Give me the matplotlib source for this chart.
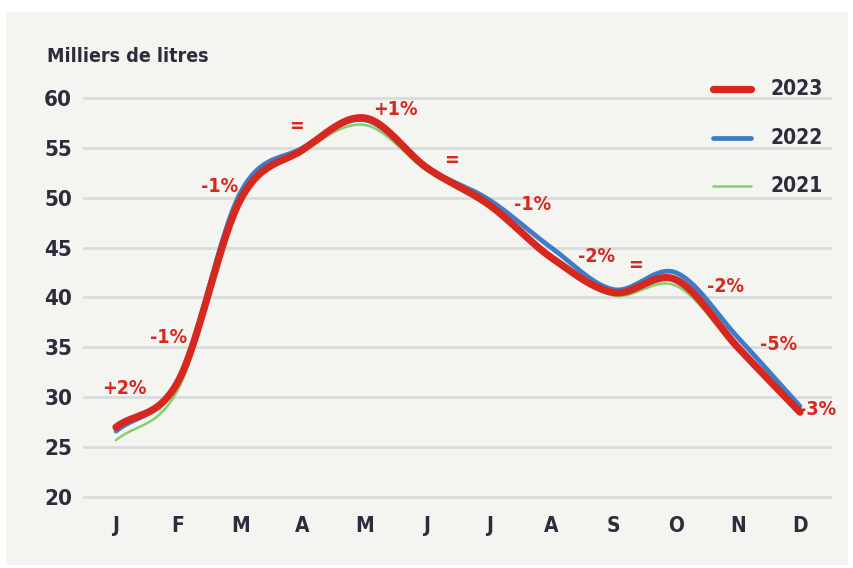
import numpy as np
import matplotlib
matplotlib.use("Agg")
import matplotlib.pyplot as plt
from matplotlib.patches import Rectangle
from matplotlib.lines import Line2D
from matplotlib import font_manager

months = ["J", "F", "M", "A", "M", "J", "J", "A", "S", "O", "N", "D"]
v2023 = [27.0, 31.6, 49.8, 54.8, 58.0, 53.0, 49.3, 44.0, 40.5, 41.8, 35.0, 28.5]
v2022 = [26.6, 31.7, 50.5, 55.0, 57.8, 53.0, 49.8, 45.0, 40.8, 42.5, 36.0, 29.1]
v2021 = [25.7, 30.8, 49.5, 54.6, 57.3, 52.7, 49.0, 43.8, 40.2, 41.2, 34.8, 28.8]
years = ["2023", "2022", "2021"]
yticks = [20, 25, 30, 35, 40, 45, 50, 55, 60]
ann_labels = ["+2%", "-1%", "-1%", "=", "+1%", "=", "-1%", "-2%", "=", "-2%", "-5%", "-3%"]
# label positions in data coords (month index, value)
ann_x = [0.13, 0.84, 1.67, 2.91, 4.50, 5.40, 6.70, 7.73, 8.36, 9.80, 10.66, 11.29]
ann_y = [30.9, 36.0, 51.1, 57.1, 58.8, 53.7, 49.3, 44.1, 43.2, 41.1, 35.3, 28.8]

RED = "#d7281f"
BLUE = "#3d7cc9"
GREEN = "#86cf6e"
TXT = "#2b2d3c"
BG = "#f4f4f0"
GRID = "#d9dcdc"

names = {f.name for f in font_manager.fontManager.ttflist}
if 'Liberation Sans Narrow' in names:
    plt.rcParams['font.family'] = ['Liberation Sans Narrow', 'DejaVu Sans']
    STRETCH = 'normal'
else:
    plt.rcParams['font.family'] = ['DejaVu Sans']
    STRETCH = 'condensed'
plt.rcParams['font.stretch'] = STRETCH


def cardinal(x, y, n=40):
    x = np.asarray(x, float)
    y = np.asarray(y, float)
    m = len(x)
    t = np.zeros(m)
    t[1:-1] = (y[2:] - y[:-2]) / (x[2:] - x[:-2])
    t[0] = (y[1] - y[0]) / (x[1] - x[0])
    t[-1] = (y[-1] - y[-2]) / (x[-1] - x[-2])
    xs_all, ys_all = [], []
    for i in range(m - 1):
        h = x[i + 1] - x[i]
        s = np.linspace(0, 1, n, endpoint=(i == m - 2))
        h00 = 2 * s ** 3 - 3 * s ** 2 + 1
        h10 = s ** 3 - 2 * s ** 2 + s
        h01 = -2 * s ** 3 + 3 * s ** 2
        h11 = s ** 3 - s ** 2
        xs_all.append(x[i] + s * h)
        ys_all.append(h00 * y[i] + h10 * h * t[i] + h01 * y[i + 1] + h11 * h * t[i + 1])
    return np.concatenate(xs_all), np.concatenate(ys_all)


fig = plt.figure(figsize=(8.54, 5.68), dpi=100)
fig.patch.set_facecolor("white")
fig.add_artist(Rectangle((6 / 854, 1 - 565 / 568), (848 - 6) / 854, (565 - 12) / 568,
                         transform=fig.transFigure, facecolor=BG, edgecolor="none", zorder=0))

ax = fig.add_axes([84 / 854, 1 - 497 / 568, (830 - 84) / 854, (497 - 98) / 568])
ax.set_facecolor("none")
x = np.arange(len(months))
ax.set_xlim(-32 / 62.18, 11 + 30 / 62.18)
ax.set_ylim(20, 60)

for yv in yticks:
    ax.axhline(yv, color=GRID, lw=2.0, zorder=1, clip_on=False)

for vals, col, lw in [(v2021, GREEN, 1.8), (v2022, BLUE, 3.4), (v2023, RED, 5.2)]:
    xs, ys = cardinal(x, vals)
    ax.plot(xs, ys, color=col, lw=lw, solid_capstyle="round", zorder=3)

for lab, xx, yy in zip(ann_labels, ann_x, ann_y):
    ax.text(xx, yy, lab, color=RED, fontsize=14, fontweight="bold",
            ha="center", va="center", zorder=4)

ax.set_xticks(x)
ax.set_xticklabels(months, fontsize=15, fontweight="bold", color=TXT)
ax.set_yticks(yticks)
ax.set_yticklabels([str(v) for v in yticks], fontsize=16, fontweight="bold", color=TXT)
ax.tick_params(length=0, axis="x", pad=14)
ax.tick_params(length=0, axis="y", pad=8.5)
for s in ax.spines.values():
    s.set_visible(False)

fig.text(47 / 854, 1 - 57 / 568, "Milliers de litres", fontsize=14, fontweight="bold",
         color=TXT, ha="left", va="center")

# legend
leg_cols = [RED, BLUE, GREEN]
leg_lw = [5.2, 3.4, 1.8]
leg_y = [89, 138, 186]
for yr, col, lw, py in zip(years, leg_cols, leg_lw, leg_y):
    yf = 1 - py / 568
    fig.add_artist(Line2D([713 / 854, 751 / 854], [yf, yf], transform=fig.transFigure,
                          color=col, lw=lw, solid_capstyle="round", zorder=5))
    fig.text(771 / 854, yf, yr, fontsize=15, fontweight="bold", color=TXT,
             ha="left", va="center")

fig.savefig("out.png", dpi=100, facecolor=fig.get_facecolor())
